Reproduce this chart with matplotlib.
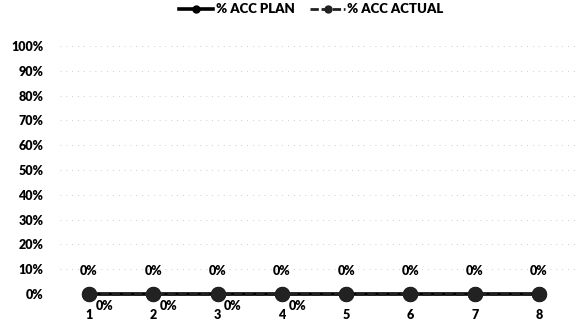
import numpy as np
import matplotlib
matplotlib.use("Agg")
import matplotlib.pyplot as plt

plt.rcParams['font.family'] = ['Lato', 'DejaVu Sans']

periods = [1, 2, 3, 4, 5, 6, 7, 8]
acc_plan = [0, 0, 0, 0, 0, 0, 0, 0]
acc_actual = [0, 0, 0, 0, 0, 0, 0, 0]
actual_labelled = [1, 2, 3, 4]   # only the first points carry an ACTUAL label
y_ticks = [0, 0.1, 0.2, 0.3, 0.4, 0.5, 0.6, 0.7, 0.8, 0.9, 1.0]

fig = plt.figure(figsize=(5.83, 3.25), dpi=100)
ax = fig.add_axes([60 / 583, 31 / 325, 515 / 583, 248 / 325])

ax.plot(periods, acc_plan, color='black', lw=2.6, marker='o', ms=10,
        clip_on=False, zorder=3, label='% ACC PLAN')
ax.plot(periods, acc_actual, color='#222222', lw=2.0, ls=(0, (3, 1)), marker='o', ms=10,
        clip_on=False, zorder=4, label='% ACC ACTUAL')

for x, v in zip(periods, acc_plan):
    ax.annotate(f"{v:.0%}", (x, v), xytext=(0, 12), textcoords='offset points',
                ha='center', va='bottom', fontsize=9, fontweight='heavy')
for x in actual_labelled:
    v = acc_actual[x - 1]
    ax.annotate(f"{v:.0%}", (x, v), xytext=(11, -4), textcoords='offset points',
                ha='center', va='top', fontsize=9, fontweight='heavy')

ax.set_xlim(1 - 29 / 64.3, 8 + 36 / 64.3)
ax.set_ylim(0, 1)
ax.set_yticks(y_ticks)
ax.set_yticklabels([f"{t:.0%}" for t in y_ticks], fontsize=9, fontweight='heavy')
ax.set_xticks(periods)
ax.set_xticklabels([str(p) for p in periods], fontsize=9, fontweight='heavy')
ax.tick_params(axis='y', length=0, pad=12)
ax.tick_params(axis='x', length=0, pad=11)
ax.grid(axis='y', color='#bbbbbb', lw=0.6, ls=(0, (1, 6)))
for s in ax.spines.values():
    s.set_visible(False)

ax.legend(loc='upper center', bbox_to_anchor=(0.488, 1.22), ncol=2, frameon=False,
          prop={'size': 9.5, 'weight': 'heavy'}, handlelength=2.6, handletextpad=0.2,
          columnspacing=1.2, markerscale=0.5)

fig.savefig('out.png', dpi=100)
